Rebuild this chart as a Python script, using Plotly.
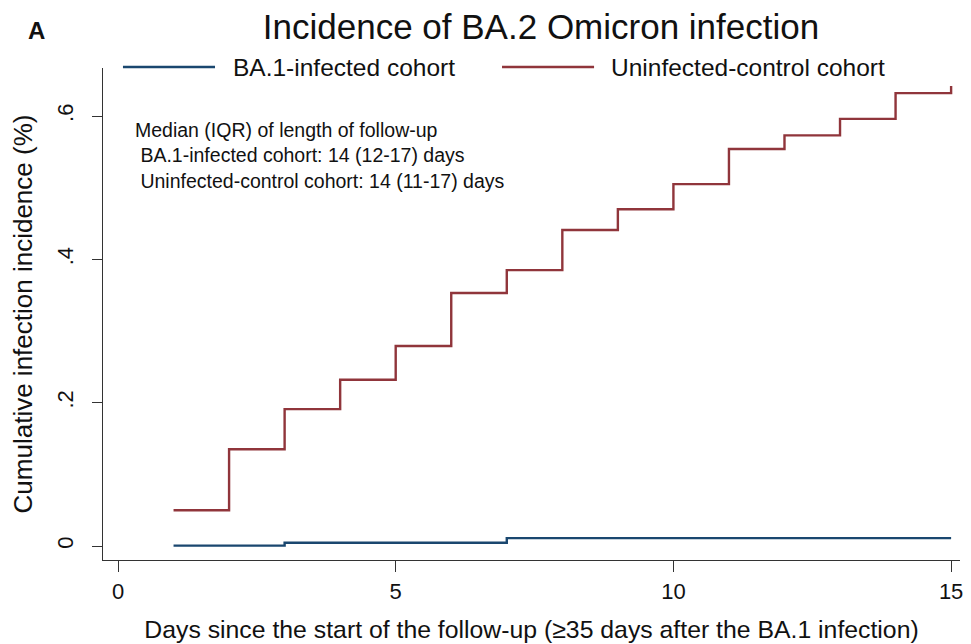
import plotly.graph_objects as go

# cumulative incidence (%), step functions by day
control_days = [1, 2, 3, 4, 5, 6, 7, 8, 9, 10, 11, 12, 13, 14, 15]
control_inc = [0.050, 0.135, 0.191, 0.232, 0.279, 0.353, 0.385, 0.441,
               0.470, 0.505, 0.554, 0.573, 0.596, 0.632, 0.642]

ba1_days = [1, 3, 7, 15]
ba1_inc = [0.0005, 0.0046, 0.011, 0.011]

y_ticks = [0, 0.2, 0.4, 0.6]
y_labels = ["0", ".2", ".4", ".6"]
x_ticks = [0, 5, 10, 15]

BLUE = "#1a476f"
RED = "#90353b"
FONT = "Liberation Sans, Arial, sans-serif"
INK = "#111111"

fig = go.Figure()
fig.add_trace(go.Scatter(x=ba1_days, y=ba1_inc, mode="lines", line_shape="hv",
                         line=dict(color=BLUE, width=2.4), name="BA.1-infected cohort"))
fig.add_trace(go.Scatter(x=control_days, y=control_inc, mode="lines", line_shape="hv",
                         line=dict(color=RED, width=2.4), name="Uninfected-control cohort"))

# manual legend (Stata draws long key lines)
legend_items = [("BA.1-infected cohort", BLUE, 0.0233, 0.1307, 0.1494),
                ("Uninfected-control cohort", RED, 0.4656, 0.5730, 0.5904)]
for label, col, x0, x1, xt in legend_items:
    fig.add_shape(type="line", xref="paper", yref="paper", x0=x0, x1=x1, y0=1.002, y1=1.002,
                  line=dict(color=col, width=2.4))
    fig.add_annotation(xref="paper", yref="paper", x=xt, y=1.002, xanchor="left", yanchor="middle",
                       text=label, showarrow=False, font=dict(size=24.5, color=INK, family=FONT))

fig.add_annotation(xref="paper", yref="paper", x=0.035, y=0.9, xanchor="left", yanchor="top",
                   align="left", showarrow=False, font=dict(size=19.5, color=INK, family=FONT),
                   text="Median (IQR) of length of follow-up<br>"
                        "\u00a0BA.1-infected cohort: 14 (12-17) days<br>"
                        "\u00a0Uninfected-control cohort: 14 (11-17) days")

fig.add_annotation(xref="paper", yref="paper", x=-0.078, y=1.077, xanchor="center", yanchor="middle",
                   text="<b>A</b>", showarrow=False, font=dict(size=24, color=INK, family=FONT))

# page body adds an 8px margin, so the figure is 8px smaller each way
fig.update_layout(
    width=963, height=636,
    margin=dict(l=95, r=11, t=60, b=84),
    paper_bgcolor="white", plot_bgcolor="white",
    showlegend=False,
    font=dict(family=FONT, color=INK),
    title=dict(text="Incidence of BA.2 Omicron infection", x=0.5535, xref="container", xanchor="center",
               y=0.971, yref="container", yanchor="middle", font=dict(size=35, color=INK, family=FONT)),
    xaxis=dict(range=[-0.27, 15.16], tickvals=x_ticks, ticks="outside", ticklen=11, tickwidth=1.3,
               tickcolor="#333", showline=True, linecolor="#333", linewidth=1.3, showgrid=False,
               zeroline=False, tickfont=dict(size=22), automargin=False,
               title=dict(text="Days since the start of the follow-up (\u226535 days after the BA.1 infection)",
                          font=dict(size=24.8), standoff=18)),
    yaxis=dict(range=[-0.0195, 0.667], tickvals=y_ticks, ticktext=y_labels, tickangle=-90,
               ticks="outside", ticklen=10, tickwidth=1.3, tickcolor="#333", showline=True,
               linecolor="#333", linewidth=1.3, showgrid=False, zeroline=False, tickfont=dict(size=22),
               automargin=False, ticklabelstandoff=10,
               title=dict(text="Cumulative infection incidence (%)", font=dict(size=26), standoff=20)),
)

fig.write_html("out.html")
